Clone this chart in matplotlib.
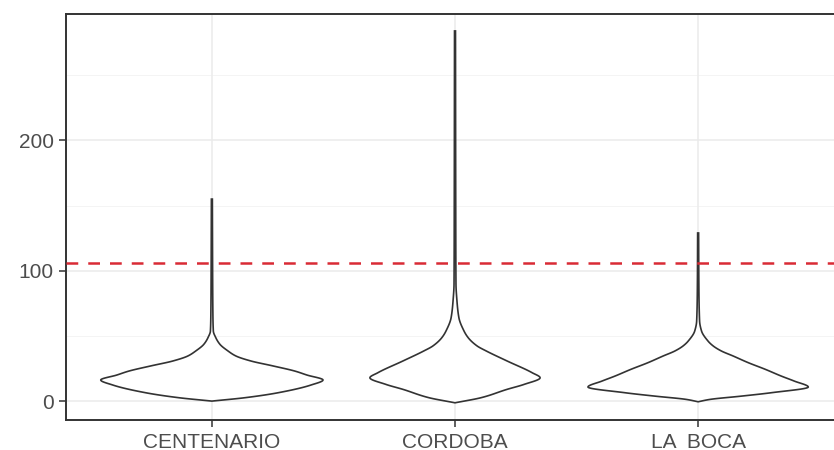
"""Violin plot of three stations with a dashed reference line (ggplot theme_bw look)."""

import matplotlib

matplotlib.use("Agg")
import matplotlib.pyplot as plt
import numpy as np

plt.rcParams["font.family"] = ["Liberation Sans", "DejaVu Sans"]

stations = ["CENTENARIO", "CORDOBA", "LA  BOCA"]

# density outline of each violin:
# value levels and half-width (category units) at each level
centenario_y = [0, 2.6, 6.4, 12.3, 16.2, 20, 23, 27, 30.8, 34.6, 38.5, 43.6, 48.7, 53.8, 70, 100, 155]
centenario_w = [0, 0.136, 0.272, 0.407, 0.457, 0.391, 0.342, 0.251, 0.160, 0.099, 0.066,
                0.033, 0.016, 0.006, 0.004, 0.003, 0.002]

cordoba_y = [-1.3, 2.6, 9, 12.8, 17.9, 21.8, 30.8, 38.5, 42.3, 48.7, 53.8, 64, 77, 90, 150, 284]
cordoba_w = [0, 0.107, 0.214, 0.284, 0.350, 0.317, 0.214, 0.128, 0.091, 0.054, 0.037,
             0.016, 0.008, 0.004, 0.003, 0.002]

laboca_y = [-0.5, 1.3, 3.8, 6.4, 10.8, 15.4, 19.2, 24.4, 29.5, 34.6, 38.5, 42.3, 46, 53.8, 61.5, 90, 129]
laboca_w = [0, 0.049, 0.177, 0.300, 0.453, 0.395, 0.342, 0.276, 0.206, 0.144, 0.095,
            0.062, 0.041, 0.014, 0.006, 0.003, 0.002]

threshold = 106
y_ticks = [0, 100, 200]
y_minor = [50, 150, 250]

violins = [(centenario_y, centenario_w), (cordoba_y, cordoba_w), (laboca_y, laboca_w)]


def pchip(x, y, xn):
    # monotone cubic so the outline bends smoothly between read points
    x = np.asarray(x, dtype=float)
    y = np.asarray(y, dtype=float)
    h = np.diff(x)
    d = np.diff(y) / h
    m = np.zeros_like(y)
    m[0], m[-1] = d[0], d[-1]
    for k in range(1, len(x) - 1):
        if d[k - 1] * d[k] > 0:
            w1 = 2 * h[k] + h[k - 1]
            w2 = h[k] + 2 * h[k - 1]
            m[k] = (w1 + w2) / (w1 / d[k - 1] + w2 / d[k])
    idx = np.clip(np.searchsorted(x, xn) - 1, 0, len(x) - 2)
    t = (xn - x[idx]) / h[idx]
    h00 = 2 * t**3 - 3 * t**2 + 1
    h10 = t**3 - 2 * t**2 + t
    h01 = -2 * t**3 + 3 * t**2
    h11 = t**3 - t**2
    return h00 * y[idx] + h10 * h[idx] * m[idx] + h01 * y[idx + 1] + h11 * h[idx] * m[idx + 1]


def draw_violin(ax, pos, ys, ws):
    fine = np.linspace(ys[0], ys[-1], 1200)
    w = np.clip(pchip(ys, ws, fine), 0, None)
    xs = np.concatenate([pos + w, (pos - w)[::-1]])
    yy = np.concatenate([fine, fine[::-1]])
    ax.fill(xs, yy, facecolor="white", edgecolor="#333333", linewidth=1.2, zorder=3)


fig = plt.figure(figsize=(8.34, 4.5), dpi=100)
ax = fig.add_axes([66 / 834, 30 / 450, 778 / 834, 406 / 450])

ax.set_xlim(0.4, 3.6)
ax.set_ylim(-14.5, 297)

for v in y_ticks:
    ax.axhline(v, color="#EBEBEB", linewidth=1.1, zorder=0)
for v in y_minor:
    ax.axhline(v, color="#F2F2F2", linewidth=0.6, zorder=0)
for i in range(len(stations)):
    ax.axvline(i + 1, color="#EBEBEB", linewidth=1.1, zorder=0)

for i, (ys, ws) in enumerate(violins):
    draw_violin(ax, i + 1, ys, ws)

ax.axhline(threshold, color="#D92B35", linewidth=1.8, dashes=(4.7, 4.0), zorder=4)

ax.set_xticks(range(1, len(stations) + 1))
ax.set_xticklabels(stations)
ax.set_yticks(y_ticks)
ax.tick_params(axis="both", colors="#333333", length=5, width=1.1,
               labelsize=15, labelcolor="#4D4D4D", pad=4)

for s in ax.spines.values():
    s.set_color("#333333")
    s.set_linewidth(1.4)

fig.savefig("out.png", dpi=100)
